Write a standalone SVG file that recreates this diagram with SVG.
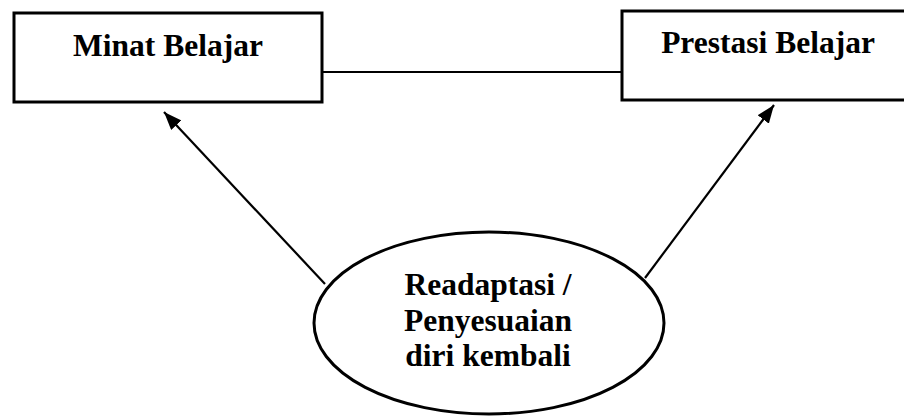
<svg xmlns="http://www.w3.org/2000/svg" width="904" height="416" viewBox="0 0 904 416">
<style>
.box{fill:#fff;stroke:#000;stroke-width:3}
.lbl{font-family:"Liberation Serif","Times New Roman",serif;font-weight:bold;font-size:31.5px;fill:#000;text-anchor:middle}
.con{stroke:#000;stroke-width:2.2;fill:none}
</style>
<defs>
<marker id="ah2" viewBox="0 0 18 14" refX="18" refY="7" markerWidth="18" markerHeight="14" markerUnits="userSpaceOnUse" orient="auto">
<path d="M0,0 L18,7 L0,14 z" fill="#000"/>
</marker>
</defs>
<rect width="904" height="416" fill="#fff"/>
<g id="connectors">
<line class="con" x1="322" y1="72" x2="622" y2="72" stroke-width="2.7"/>
<line class="con" x1="325" y1="284" x2="164" y2="112" marker-end="url(#ah2)"/>
<line class="con" x1="645" y1="278" x2="774" y2="105" marker-end="url(#ah2)"/>
</g>
<g id="minat">
<rect class="box" x="14" y="13" width="308" height="89"/>
<text class="lbl" x="168" y="56">Minat Belajar</text>
</g>
<g id="prestasi">
<rect class="box" x="622" y="11" width="292" height="89"/>
<text class="lbl" x="768" y="53">Prestasi Belajar</text>
</g>
<g id="readaptasi">
<ellipse cx="489" cy="323" rx="175" ry="91" fill="#fff" stroke="#000" stroke-width="3"/>
<text class="lbl" x="488" y="295">Readaptasi /</text>
<text class="lbl" x="488" y="331">Penyesuaian</text>
<text class="lbl" x="488" y="366">diri kembali</text>
</g>
</svg>
